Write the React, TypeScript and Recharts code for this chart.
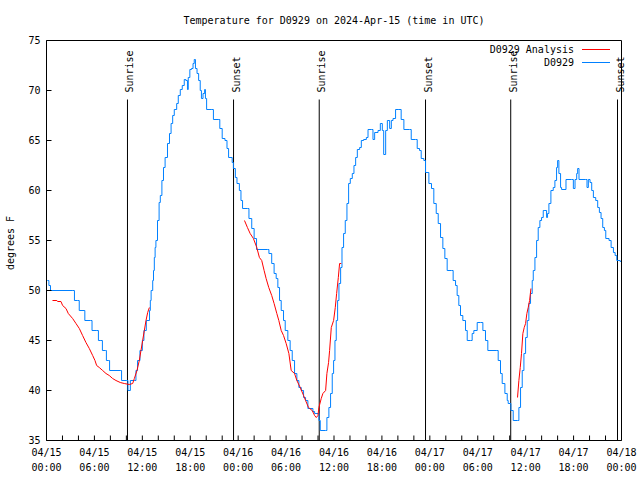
import React from "react";
import {
  LineChart,
  Line,
  XAxis,
  YAxis,
  ReferenceLine,
  Legend,
} from "recharts";

const MONO = '"DejaVu Sans Mono", monospace';
const TITLE = "Temperature for D0929 on 2024-Apr-15 (time in UTC)";

// hours since 2024-04-15 00:00 UTC, temperature in degrees F
const stationObs: [number, number][] = [
  [0.1, 51], [0.3, 50.5], [0.5, 50], [3.3, 50], [3.5, 49], [3.9, 49], [4.1, 48], [4.7, 48],
  [4.8, 47], [5.5, 47], [5.7, 46], [6.3, 46], [6.5, 45], [6.8, 45], [7.0, 44], [7.4, 44],
  [7.5, 43], [7.8, 43], [7.9, 42], [9.3, 42], [9.4, 41], [10.0, 41], [10.2, 40], [10.5, 41],
  [11.0, 41], [11.2, 42], [11.4, 43], [11.7, 44], [12.0, 45], [12.2, 46], [12.5, 47], [12.9, 48],
  [13.0, 49], [13.1, 50], [13.3, 51], [13.4, 52], [13.5, 53.3], [13.6, 54.3], [13.7, 55],
  [13.9, 57], [14.1, 58.8], [14.25, 59.5], [14.45, 61], [14.65, 62.3], [14.85, 63.3],
  [15.15, 64.7], [15.4, 65.7], [15.6, 66.7], [15.8, 67.5], [16.0, 68.1], [16.3, 68.7],
  [16.5, 69.5], [16.75, 70.1], [17.0, 70.5], [17.25, 71.1], [17.45, 71], [17.65, 70.1],
  [17.75, 71.3], [17.95, 72.1], [18.15, 72.2], [18.35, 72.7], [18.5, 73.1], [18.65, 72.2],
  [18.85, 71.7], [19.05, 71], [19.25, 70], [19.4, 69.2], [19.6, 69.7], [19.8, 70.1],
  [19.9, 69.2], [20.05, 68.1], [20.7, 68.1], [20.9, 67.1], [21.5, 67.1], [21.7, 66.2],
  [22.0, 65.2], [22.35, 65], [22.6, 64.2], [22.8, 63.3], [23.25, 62.8], [23.4, 62.2],
  [23.65, 61.3], [23.85, 60.7], [24.15, 60], [24.35, 59], [24.55, 58.2], [25.15, 58.2],
  [25.35, 57.2], [25.7, 56.2], [26.0, 55.2], [26.3, 54.1], [27.65, 54.1], [27.85, 53.7],
  [28.2, 52.7], [28.5, 51.7], [28.76, 51.2], [28.97, 50.3], [29.18, 49], [29.39, 48],
  [29.68, 47], [29.89, 46], [30.22, 45], [30.51, 44], [30.77, 43], [31.06, 41.7], [31.35, 41],
  [31.6, 40.3], [31.9, 40], [32.19, 39.3], [32.44, 39], [32.73, 38.2], [33.36, 37.9],
  [33.57, 37.7], [34.11, 37], [34.28, 36], [34.95, 36], [35.11, 37.3], [35.36, 38.3],
  [35.57, 39.7], [35.78, 41.7], [35.95, 43], [36.12, 45], [36.28, 47], [36.45, 49],
  [36.62, 50.7], [36.83, 52.3], [37.0, 54.3], [37.2, 55.7], [37.41, 57], [37.62, 58.7],
  [37.83, 60.7], [38.04, 61.2], [38.29, 61.7], [38.5, 62.5], [38.71, 63.3], [38.92, 64.1],
  [39.21, 64.3], [39.42, 65], [39.71, 65.1], [40.05, 65.3], [40.26, 66.1], [40.67, 66.1],
  [40.88, 65.1], [41.09, 65.8], [41.51, 66], [41.8, 66.7], [42.05, 66], [42.22, 63.6],
  [42.47, 66], [42.68, 67], [42.97, 66.2], [43.18, 67], [43.39, 67.2], [43.71, 68.1],
  [44.12, 68.1], [44.41, 67.1], [44.75, 66.1], [45.46, 66.1], [45.67, 65.1], [46.21, 65.1],
  [46.42, 64.2], [46.71, 64], [46.92, 63.2], [47.25, 63], [47.46, 61.8], [47.88, 60.7],
  [48.21, 60.2], [48.5, 58.7], [48.8, 57.7], [49.05, 56.7], [49.34, 55.3], [49.63, 54.2],
  [49.88, 53.2], [50.17, 52], [50.71, 52], [50.92, 51], [51.22, 50.5], [51.42, 49.5],
  [51.63, 48.5], [51.84, 47.5], [52.13, 47], [52.47, 46], [52.68, 45], [53.1, 45],
  [53.3, 45.7], [53.51, 46], [53.93, 46.8], [54.35, 46.8], [54.64, 46], [54.97, 45],
  [55.26, 44], [56.31, 44], [56.56, 43], [56.85, 41.7], [57.06, 40.7], [57.4, 39.7],
  [57.69, 39], [57.81, 38.7], [58.15, 38], [58.44, 37], [58.98, 37], [59.15, 38.3],
  [59.36, 40.3], [59.57, 42], [59.78, 43.7], [59.99, 45.3], [60.2, 47], [60.4, 48.7],
  [60.61, 49.7], [60.82, 51], [60.95, 52], [61.16, 53.3], [61.37, 55], [61.57, 56.3],
  [61.78, 57], [61.99, 57.3], [62.2, 58], [62.41, 58], [62.62, 57.3], [62.74, 57.7],
  [62.91, 58.7], [63.16, 60], [63.45, 60.3], [63.66, 61], [63.87, 62.3], [64.0, 63],
  [64.16, 61.7], [64.37, 60.3], [64.5, 60.1], [64.8, 60.1], [65.05, 61.1], [65.76, 61.1],
  [65.97, 60.2], [66.18, 61.1], [66.39, 61.7], [66.51, 62.2], [66.68, 61.1], [67.52, 61.1],
  [67.68, 60.3], [67.85, 61.1], [68.06, 60.8], [68.27, 60], [68.48, 59.3], [68.77, 59],
  [69.02, 58.3], [69.23, 57.8], [69.44, 57.2], [69.65, 56.3], [69.86, 56], [70.03, 55.2],
  [70.44, 55], [70.7, 54.3], [70.99, 53.8], [71.2, 53.5], [71.41, 53], [71.83, 52.9],
  [72.0, 52.9],
];

const analysisSeg1: [number, number][] = [
  [0.75, 49], [1.3, 49], [1.39, 48.9], [1.81, 48.9], [2.02, 48.5], [2.44, 48.2], [2.73, 47.7],
  [3.27, 47.2], [3.69, 46.7], [4.11, 46.2], [4.52, 45.5], [4.94, 44.8], [5.36, 44.2],
  [5.78, 43.5], [6.07, 43], [6.28, 42.5], [6.61, 42.3], [7.03, 42], [7.45, 41.7], [7.86, 41.5],
  [8.28, 41.2], [8.7, 41], [9.24, 40.8], [9.74, 40.7], [10.37, 40.6], [10.79, 40.7],
  [11.0, 41.2], [11.33, 42], [11.62, 43], [11.83, 44], [12.04, 45], [12.25, 46], [12.46, 47],
  [12.67, 47.8], [12.88, 48.3],
];

const analysisSeg2: [number, number][] = [
  [24.79, 57], [25.16, 56.3], [25.5, 55.7], [25.91, 55.2], [26.33, 54.3], [26.66, 53.3],
  [26.95, 53], [27.25, 52], [27.5, 51.2], [27.83, 50.3], [28.2, 49.5], [28.5, 48.7],
  [28.84, 47.7], [29.09, 47], [29.39, 46], [29.68, 45.5], [30.01, 44.7], [30.35, 43.7],
  [30.64, 42], [31.06, 41.7], [31.35, 41], [31.77, 40.3], [32.19, 39.5], [32.44, 39],
  [32.81, 38.3], [33.27, 38], [33.57, 37.5], [33.78, 37.3], [33.99, 37.5], [34.11, 38.3],
  [34.4, 39.2], [34.61, 39.7], [34.95, 40], [35.11, 41.7], [35.32, 42.8], [35.45, 44],
  [35.66, 46.3], [35.95, 47], [36.16, 48.3], [36.33, 49.7], [36.54, 51.3], [36.7, 52.7],
  [36.91, 52.7],
];

const analysisSeg3: [number, number][] = [
  [58.98, 39.3], [59.15, 41], [59.32, 42.3], [59.48, 43.7], [59.65, 45.7], [59.82, 46.3],
  [59.99, 46.7], [60.15, 47.7], [60.32, 48.3], [60.49, 49], [60.66, 50.2],
];

const sunEvents = [
  { h: 10.14, name: "Sunrise" },
  { h: 23.42, name: "Sunset" },
  { h: 34.15, name: "Sunrise" },
  { h: 47.46, name: "Sunset" },
  { h: 58.13, name: "Sunrise" },
  { h: 71.5, name: "Sunset" },
];

const hourTicks = [
  0, 2, 4, 6, 8, 10, 12, 14, 16, 18, 20, 22, 24, 26, 28, 30, 32, 34, 36,
  38, 40, 42, 44, 46, 48, 50, 52, 54, 56, 58, 60, 62, 64, 66, 68, 70, 72,
];
const dayLabels = ["04/15", "04/16", "04/17", "04/18"];
const timeLabels = ["00:00", "06:00", "12:00", "18:00"];
const tempTicks = [35, 40, 45, 50, 55, 60, 65, 70, 75];

const series = [
  { name: "D0929 Analysis", color: "#ff0000" },
  { name: "D0929", color: "#0080ff" },
];

const toPoints = (rows: [number, number][]) => rows.map(([t, v]) => ({ t, v }));

const obsData = toPoints(stationObs);
const analysisData = [
  ...toPoints(analysisSeg1),
  { t: 13, v: null },
  ...toPoints(analysisSeg2),
  { t: 37, v: null },
  ...toPoints(analysisSeg3),
];

function TimeTick(props: any) {
  const { x, y, payload } = props;
  const h = payload.value;
  if (h % 6 !== 0) return <g />;
  return (
    <g>
      <text x={x} y={y + 15.5} textAnchor="middle" fontFamily={MONO} fontSize={10} fill="#000">
        {dayLabels[Math.floor(h / 24)]}
      </text>
      <text x={x} y={y + 30.5} textAnchor="middle" fontFamily={MONO} fontSize={10} fill="#000">
        {timeLabels[(h % 24) / 6]}
      </text>
    </g>
  );
}

const emptyTick = () => <g />;

const sunLabel = (text: string) => (props: any) => {
  const vb = props.viewBox || {};
  const x = vb.x + 6;
  const y = vb.y - 7;
  return (
    <text x={x} y={y} transform={`rotate(-90 ${x} ${y})`} fontFamily={MONO} fontSize={10} fill="#000">
      {text}
    </text>
  );
};

const titleLabel = () => (
  <text x={334} y={24} textAnchor="middle" fontFamily={MONO} fontSize={10} fill="#000">
    {TITLE}
  </text>
);

const yLabel = () => (
  <text x={14} y={243} textAnchor="middle" transform="rotate(-90 14 243)" fontFamily={MONO} fontSize={10} fill="#000">
    degrees F
  </text>
);

function LegendBox() {
  return (
    <div style={{ fontFamily: MONO, fontSize: 10, color: "#000" }}>
      {series.map((s) => (
        <div key={s.name} style={{ display: "flex", justifyContent: "flex-end", alignItems: "center", height: 13 }}>
          <span style={{ lineHeight: "13px" }}>{s.name}</span>
          <span style={{ width: 8 }} />
          <span style={{ width: 28, borderTop: `1px solid ${s.color}` }} />
        </div>
      ))}
    </div>
  );
}

export default function App() {
  const axisStroke = { stroke: "#000" };
  return (
    <div style={{ position: "absolute", left: 0, top: 0, width: 640, height: 480, background: "#fff" }}>
      <LineChart width={640} height={480} margin={{ top: 39.5, right: 17.5, bottom: 9.5, left: 6.5 }}>
        <XAxis
          dataKey="t"
          type="number"
          domain={[0, 72]}
          ticks={hourTicks}
          interval={0}
          height={30}
          tickSize={-5}
          tickMargin={5}
          axisLine={axisStroke}
          tickLine={axisStroke}
          tick={TimeTick}
        />
        <XAxis
          xAxisId="top"
          orientation="top"
          dataKey="t"
          type="number"
          domain={[0, 72]}
          ticks={hourTicks}
          interval={0}
          height={1}
          tickSize={-5}
          axisLine={axisStroke}
          tickLine={axisStroke}
          tick={emptyTick}
          label={titleLabel}
        />
        <YAxis
          type="number"
          domain={[35, 75]}
          ticks={tempTicks}
          interval={0}
          width={40}
          tickSize={-5}
          tickMargin={11}
          axisLine={axisStroke}
          tickLine={axisStroke}
          tick={{ fill: "#000", fontSize: 10, fontFamily: MONO }}
          label={yLabel}
        />
        <YAxis
          yAxisId="right"
          orientation="right"
          type="number"
          domain={[35, 75]}
          ticks={tempTicks}
          interval={0}
          width={1}
          tickSize={-5}
          axisLine={axisStroke}
          tickLine={axisStroke}
          tick={emptyTick}
        />
        {sunEvents.map((e, i) => (
          <ReferenceLine
            key={i}
            segment={[{ x: e.h, y: 69.1 }, { x: e.h, y: 35 }]}
            stroke="#000"
            strokeWidth={1}
            label={sunLabel(e.name)}
          />
        ))}
        <Line
          data={obsData}
          dataKey="v"
          name="D0929"
          type="stepAfter"
          stroke="#0080ff"
          strokeWidth={1}
          dot={false}
          isAnimationActive={false}
        />
        <Line
          data={analysisData}
          dataKey="v"
          name="D0929 Analysis"
          type="linear"
          stroke="#ff0000"
          strokeWidth={1}
          dot={false}
          connectNulls={false}
          isAnimationActive={false}
        />
        <Legend
          layout="vertical"
          align="center"
          verticalAlign="middle"
          content={LegendBox}
          wrapperStyle={{ position: "absolute", left: 440, top: 43, width: 170, height: 26 }}
        />
      </LineChart>
    </div>
  );
}
